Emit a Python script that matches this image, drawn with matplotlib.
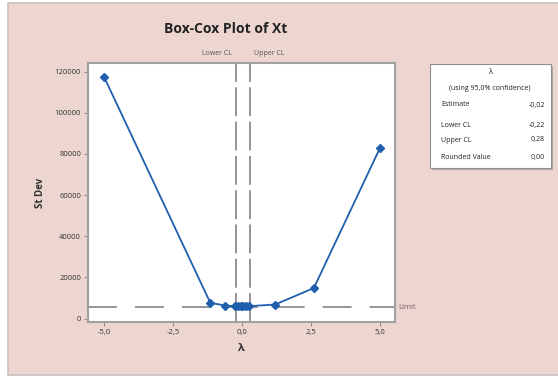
import matplotlib
matplotlib.use("Agg")
import matplotlib.pyplot as plt
from matplotlib.patches import Rectangle

plt.rcParams['font.family'] = ['Open Sans', 'DejaVu Sans']

# Box-Cox profile: lambda vs. pooled standard deviation
lambdas = [-5.0, -1.15, -0.6, -0.25, -0.15, -0.05, 0.05, 0.15, 0.25, 1.2, 2.6, 5.0]
stdevs = [117500, 7600, 6300, 6000, 5950, 5900, 5900, 5950, 6000, 6800, 14800, 83000]

limit_value = 5500
lower_cl = -0.22
upper_cl = 0.28

xticks = [-5.0, -2.5, 0.0, 2.5, 5.0]
xtick_labels = ["-5,0", "-2,5", "0,0", "2,5", "5,0"]
yticks = [0, 20000, 40000, 60000, 80000, 100000, 120000]
ytick_labels = ["0", "20000", "40000", "60000", "80000", "100000", "120000"]

table_rows = [("Estimate", "-0,02"), ("Lower CL", "-0,22"),
              ("Upper CL", "0,28"), ("Rounded Value", "0,00")]

W, H = 558, 378
fig = plt.figure(figsize=(W / 100, H / 100), dpi=100, facecolor='white')

def fx(px):
    return px / W

def fy(py):
    return 1 - py / H

pink = '#EDD6D0'
# graph region background
fig.patches.append(Rectangle((fx(8), fy(375)), fx(560) - fx(8), fy(3) - fy(375),
                             transform=fig.transFigure, facecolor=pink,
                             edgecolor='#C8C0BE', linewidth=1.2, zorder=-5))

ax = fig.add_axes([fx(88), fy(322), fx(395) - fx(88), fy(63) - fy(322)])
ax.set_zorder(1)
ax.set_facecolor('white')
ax.set_xlim(-5.58, 5.54)
ax.set_ylim(-1700, 124200)

blue = '#1F5FAE'
grey = '#8C8C8C'
ax.axhline(limit_value, color=grey, lw=1.3, dashes=(16, 10), zorder=1)
ax.axvline(lower_cl, color=grey, lw=1.3, dashes=(16, 3), zorder=1)
ax.axvline(upper_cl, color=grey, lw=1.3, dashes=(16, 3), zorder=1)

ax.plot(lambdas, stdevs, color=blue, lw=1.3, marker='D', markersize=4.5,
        markerfacecolor=blue, markeredgecolor=blue, zorder=3)

ax.set_xticks(xticks)
ax.set_xticklabels(xtick_labels)
ax.set_yticks(yticks)
ax.set_yticklabels(ytick_labels)
ax.tick_params(axis='both', labelsize=5.5, length=3, width=0.8, color=grey,
               direction='out', pad=2, labelcolor='#333333')
for s in ax.spines.values():
    s.set_color('#A0A0A0')
    s.set_linewidth(1.5)

ax.set_xlabel("λ", fontsize=8, fontweight='bold', color='#333333', labelpad=5)
ax.set_ylabel("St Dev", fontsize=7, fontweight='bold', color='#333333', labelpad=6)

fig.text(fx(226), fy(29), "Box-Cox Plot of Xt", fontsize=10, fontweight='bold',
         ha='center', va='center', color='#222222')

# CL and limit labels
ax.text(lower_cl - 0.15, 1.035, "Lower CL", transform=ax.get_xaxis_transform(),
        fontsize=5, ha='right', va='center', color='#555555', clip_on=False)
ax.text(upper_cl + 0.15, 1.035, "Upper CL", transform=ax.get_xaxis_transform(),
        fontsize=5, ha='left', va='center', color='#555555', clip_on=False)
ax.text(1.012, limit_value, "Limit", transform=ax.get_yaxis_transform(),
        fontsize=5.5, ha='left', va='center', color='#7A5A6A', clip_on=False)

# summary table
bx0, by0, bx1, by1 = 430, 64, 551, 168
fig.patches.append(Rectangle((fx(bx0 + 2), fy(by1 + 2)), fx(bx1) - fx(bx0), fy(by0) - fy(by1),
                             transform=fig.transFigure, facecolor='#B0A8A6',
                             edgecolor='none', zorder=2))
fig.patches.append(Rectangle((fx(bx0), fy(by1)), fx(bx1) - fx(bx0), fy(by0) - fy(by1),
                             transform=fig.transFigure, facecolor='white',
                             edgecolor='#909090', linewidth=0.8, zorder=2.5))
fig.text(fx(490), fy(73), "λ", fontsize=5.5, ha='center', va='center', color='#222222')
fig.text(fx(490), fy(88), "(using 95,0% confidence)", fontsize=5, ha='center',
         va='center', color='#222222')
for (name, val), ypos in zip(table_rows, [105, 126, 140, 158]):
    fig.text(fx(441), fy(ypos), name, fontsize=5, ha='left', va='center', color='#222222')
    fig.text(fx(545), fy(ypos), val, fontsize=5, ha='right', va='center', color='#222222')

fig.savefig("out.png", dpi=100, facecolor=fig.get_facecolor())
